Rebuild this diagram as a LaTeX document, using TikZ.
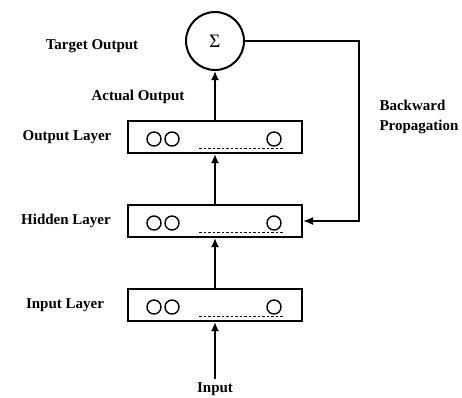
\documentclass[tikz,border=0pt]{standalone}
\usepackage{fontspec}
\setmainfont{Liberation Serif}
\usetikzlibrary{shapes,arrows,arrows.meta,positioning}

\tikzset{
  layer/.style={rectangle, draw, line width=2pt, minimum width=174pt, minimum height=32pt},
  lbl/.style={font=\fontsize{15}{20}\selectfont\bfseries},
  unit/.style={line width=1.4pt},
  flow/.style={-{Latex[length=9pt,width=8pt]}, line width=2.8pt},
  feedback/.style={-{Latex[length=10pt,width=8pt]}, line width=1.8pt}
}

\begin{document}
\begin{tikzpicture}[x=1pt, y=-1pt, node distance=84pt]
\useasboundingbox (0,0) rectangle (462,397);

\node (outlayer) [layer] at (215,137) {};
\node (hiddenlayer) [layer, below of=outlayer] {};
\node (inlayer) [layer, below of=hiddenlayer] {};
\node (input) [lbl, below of=inlayer] {Input};
\node (sum) [circle, draw, line width=2pt, minimum size=58pt, above of=outlayer, yshift=12pt] {\fontsize{19}{20}\selectfont Σ};

\node (outlbl) [lbl, left of=outlayer, xshift=-64pt] {Output Layer};
\node (hiddenlbl) [lbl, left of=hiddenlayer, xshift=-65pt] {Hidden Layer};
\node (inlbl) [lbl, left of=inlayer, xshift=-66pt] {Input Layer};
\node (target) [lbl] at (92,46) {Target Output};
\node (actual) [lbl] at (138,97) {Actual Output};
\node (backprop) [lbl, align=left, anchor=west] at (376,117) {Backward\\Propagation};

% neurons in each layer
\draw [unit] (outlayer.west) ++(27,2) circle (7pt) ++(18,0) circle (7pt);
\draw [unit] (outlayer.east) ++(-29,2) circle (7pt);
\draw [dashed, dash pattern=on 2.5pt off 2pt, line width=0.9pt] (outlayer.west) ++(72,11) -- ++(84,0);
\draw [unit] (hiddenlayer.west) ++(27,2) circle (7pt) ++(18,0) circle (7pt);
\draw [unit] (hiddenlayer.east) ++(-29,2) circle (7pt);
\draw [dashed, dash pattern=on 2.5pt off 2pt, line width=0.9pt] (hiddenlayer.west) ++(72,11) -- ++(84,0);
\draw [unit] (inlayer.west) ++(27,2) circle (7pt) ++(18,0) circle (7pt);
\draw [unit] (inlayer.east) ++(-29,2) circle (7pt);
\draw [dashed, dash pattern=on 2.5pt off 2pt, line width=0.9pt] (inlayer.west) ++(72,11) -- ++(84,0);

\coordinate (corner) at (359,221);

\draw [flow] (input.north) -- (inlayer.south);
\draw [flow] (inlayer.north) -- (hiddenlayer.south);
\draw [flow] (hiddenlayer.north) -- (outlayer.south);
\draw [flow] (outlayer.north) -- (sum.south);
\draw [feedback] (sum.east) -| (corner) -- (hiddenlayer.east);
\end{tikzpicture}
\end{document}
